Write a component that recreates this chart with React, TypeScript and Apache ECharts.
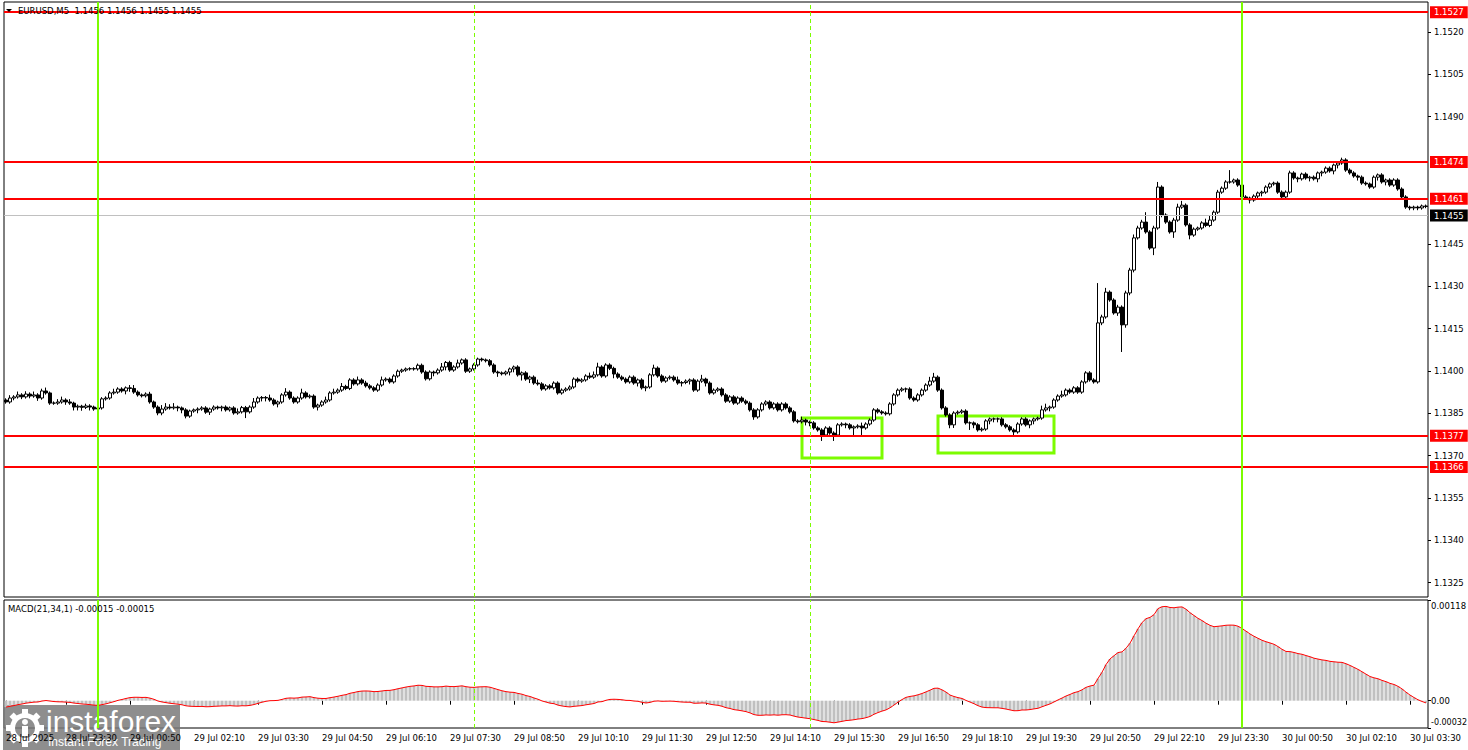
import React, { useEffect, useRef } from 'react';
import * as echarts from 'echarts';

const FONT = 'DejaVu Sans, Verdana, sans-serif';
const FS = 8.5;

// prices are stored as pips above 1.1300
const BASE_PRICE = 1.13;
const FIRST_OPEN_PIPS = 89.7;
// MACD value on the first visible bar
const MACD_START = -0.00008;

// EURUSD M5 closes, one per bar (pips above 1.1300)
const closePips = [
  89.0, 90.4, 90.8, 91.5, 90.8, 91.8, 91.1, 91.5, 90.4, 92.9,
  92.2, 88.6, 88.6, 89.0, 89.7, 89.0, 88.6, 87.2, 87.5, 87.1,
  87.6, 87.2, 86.5, 86.9, 90.1, 90.4, 92.2, 92.5, 93.6, 92.9,
  94.0, 93.8, 92.5, 91.5, 91.2, 91.8, 89.0, 87.2, 85.1, 86.5,
  87.2, 86.9, 87.2, 86.9, 86.2, 84.0, 85.8, 86.2, 86.5, 86.9,
  85.4, 86.5, 87.2, 86.9, 87.2, 86.2, 86.9, 85.1, 85.5, 87.0,
  85.5, 87.2, 89.0, 90.4, 90.6, 90.4, 89.7, 88.3, 89.0, 91.5,
  92.5, 90.4, 89.0, 90.4, 92.2, 90.8, 91.1, 87.2, 87.9, 89.0,
  89.7, 92.2, 92.5, 93.2, 94.5, 93.8, 96.8, 95.4, 96.8, 95.7,
  94.7, 94.0, 93.2, 95.0, 96.8, 97.1, 96.1, 98.2, 99.9, 100.3,
  100.7, 100.8, 100.7, 102.0, 99.6, 97.2, 99.6, 99.3, 100.3, 101.4,
  103.0, 100.3, 101.4, 102.8, 103.9, 99.9, 100.7, 102.1, 104.2, 103.9,
  103.6, 102.1, 99.6, 99.3, 99.0, 99.6, 100.7, 101.4, 98.6, 99.3,
  97.1, 97.8, 95.7, 95.4, 93.6, 94.7, 94.0, 95.7, 92.2, 93.2,
  93.6, 94.3, 97.1, 96.4, 96.8, 98.2, 97.8, 98.6, 101.4, 98.2,
  102.1, 100.9, 98.9, 97.8, 97.1, 96.1, 97.8, 95.7, 96.8, 94.0,
  94.3, 98.6, 101.0, 98.2, 96.4, 97.5, 97.8, 96.8, 95.7, 95.9,
  96.4, 96.8, 93.2, 96.4, 97.1, 95.7, 92.2, 93.2, 93.6, 91.5,
  89.3, 90.8, 88.6, 90.4, 89.3, 88.6, 86.2, 83.7, 86.2, 88.3,
  89.0, 86.9, 88.3, 86.2, 88.3, 86.9, 85.5, 82.3, 82.0, 82.6,
  81.9, 81.6, 79.8, 79.1, 77.3, 79.8, 78.0, 77.3, 80.9, 81.2,
  80.9, 79.8, 80.2, 80.5, 79.8, 81.2, 82.6, 86.2, 85.5, 85.1,
  84.8, 88.3, 91.5, 93.2, 93.6, 93.6, 90.4, 89.7, 91.5, 93.2,
  95.0, 96.4, 97.8, 93.2, 86.9, 84.4, 80.9, 85.1, 85.4, 85.8,
  81.6, 81.6, 80.9, 79.1, 79.4, 82.3, 83.0, 83.0, 83.0, 80.9,
  80.2, 79.1, 78.4, 81.2, 83.0, 80.9, 82.3, 83.0, 83.3, 86.2,
  86.9, 87.2, 89.7, 91.1, 91.5, 93.2, 92.5, 94.0, 92.5, 96.1,
  99.3, 96.8, 96.1, 117.0, 119.1, 127.9, 125.1, 120.5, 122.6, 116.3,
  127.6, 135.7, 147.1, 150.6, 152.7, 149.2, 143.5, 150.6, 165.1, 155.2,
  152.7, 149.2, 153.4, 158.0, 158.7, 151.7, 148.1, 150.2, 150.6, 152.4,
  151.5, 153.4, 156.2, 163.3, 164.7, 166.9, 166.9, 167.6, 165.8, 161.6,
  161.2, 160.5, 161.9, 163.0, 163.3, 165.1, 166.2, 166.5, 163.3, 161.6,
  163.3, 170.1, 168.3, 168.0, 169.7, 168.3, 168.6, 168.0, 170.1, 170.4,
  171.8, 170.8, 172.9, 173.6, 174.7, 171.1, 170.1, 169.0, 168.6, 166.5,
  166.2, 165.1, 168.6, 169.4, 166.9, 167.6, 165.8, 167.6, 164.4, 161.6,
  158.0, 157.7, 158.0, 157.7, 158.4, 158.2,
];

// wick lengths above / below the body, pips
const upperWickPips = [
  0.6, 1.0, 0.6, 1.2, 0.6, 1.0, 0.6, 1.2, 0.6, 0.8,
  1.2, 0.5, 0.6, 1.0, 1.2, 0.6, 1.0, 0.5, 0.6, 0.5,
  0.8, 0.6, 0.5, 0.6, 0.6, 0.6, 0.6, 1.2, 0.6, 0.6,
  0.5, 1.0, 1.2, 0.6, 0.5, 0.6, 0.8, 0.5, 0.6, 1.4,
  1.4, 1.0, 1.4, 0.5, 0.5, 0.6, 0.5, 0.5, 0.6, 0.6,
  0.6, 0.5, 0.6, 0.5, 0.5, 0.6, 0.5, 0.6, 1.2, 0.6,
  0.6, 0.6, 1.4, 0.6, 0.5, 0.5, 1.2, 0.6, 0.5, 0.6,
  1.4, 0.6, 0.6, 0.6, 1.5, 0.6, 0.6, 0.6, 0.5, 0.6,
  1.2, 0.6, 1.2, 0.6, 1.2, 0.6, 0.6, 0.6, 1.2, 0.6,
  0.8, 0.6, 0.6, 0.6, 1.2, 0.6, 0.6, 0.6, 0.6, 0.5,
  0.5, 0.5, 0.5, 0.6, 0.6, 0.6, 0.6, 0.5, 0.6, 1.4,
  0.5, 0.6, 0.6, 1.2, 0.5, 0.6, 0.5, 0.6, 0.5, 0.5,
  0.5, 0.6, 0.6, 0.5, 0.5, 0.5, 0.5, 0.5, 0.6, 0.5,
  0.6, 0.5, 0.6, 1.2, 0.6, 0.6, 0.6, 0.6, 0.6, 0.6,
  0.6, 0.6, 0.6, 0.6, 0.6, 0.6, 1.2, 1.2, 1.5, 0.6,
  0.6, 0.6, 0.6, 0.6, 0.6, 0.6, 0.6, 0.6, 0.5, 0.6,
  0.5, 0.6, 1.2, 0.6, 0.6, 0.6, 0.6, 0.6, 1.2, 0.5,
  0.6, 0.5, 0.6, 0.6, 1.5, 0.5, 0.6, 0.6, 0.6, 0.6,
  0.6, 0.6, 0.6, 0.6, 0.6, 0.6, 0.6, 0.6, 0.6, 0.6,
  0.6, 0.6, 0.6, 0.6, 0.6, 0.6, 0.6, 0.6, 0.6, 1.2,
  0.5, 0.5, 0.6, 0.6, 0.6, 0.6, 0.6, 0.6, 0.6, 0.6,
  0.5, 0.6, 0.5, 0.6, 1.2, 0.6, 0.6, 0.6, 0.6, 0.6,
  0.6, 0.6, 0.6, 0.6, 0.6, 0.5, 0.6, 0.6, 0.6, 0.6,
  0.6, 1.5, 1.5, 0.6, 0.6, 0.6, 0.6, 0.6, 0.6, 0.6,
  0.6, 0.5, 0.5, 0.6, 0.6, 0.6, 0.5, 0.5, 0.5, 0.6,
  0.6, 0.6, 0.6, 0.6, 0.6, 0.6, 0.5, 0.5, 0.5, 1.5,
  1.5, 0.5, 0.6, 0.6, 1.5, 0.6, 0.6, 0.6, 0.6, 0.6,
  0.6, 0.6, 0.6, 14.1, 0.8, 1.5, 0.6, 0.6, 0.8, 0.6,
  0.8, 0.8, 1.2, 0.8, 0.8, 3.5, 0.6, 0.8, 1.8, 0.6,
  0.6, 0.6, 0.8, 1.2, 1.5, 0.6, 0.6, 0.6, 0.5, 0.6,
  1.5, 1.5, 0.6, 0.8, 0.6, 0.6, 4.2, 0.5, 0.6, 0.6,
  0.6, 0.5, 0.6, 0.5, 0.5, 0.6, 0.5, 0.5, 0.6, 0.6,
  0.6, 0.8, 0.6, 0.5, 0.5, 0.6, 0.5, 0.6, 0.5, 0.5,
  0.6, 0.6, 0.5, 0.5, 0.8, 0.6, 0.6, 0.6, 0.5, 0.6,
  0.6, 0.5, 0.6, 0.5, 0.6, 0.5, 0.6, 0.6, 0.6, 0.6,
  0.6, 0.5, 0.5, 0.5, 0.5, 0.5,
];

const lowerWickPips = [
  0.6, 0.6, 0.8, 0.6, 0.8, 0.6, 0.8, 0.6, 1.0, 0.6,
  0.6, 0.6, 0.6, 0.6, 0.6, 1.0, 0.6, 1.2, 1.2, 1.2,
  0.6, 1.2, 0.6, 1.2, 0.6, 0.6, 0.6, 0.6, 0.6, 0.6,
  1.2, 1.2, 0.6, 0.6, 0.6, 0.6, 0.6, 0.6, 0.8, 0.8,
  0.6, 0.6, 0.6, 1.2, 1.2, 0.8, 0.6, 0.6, 1.2, 0.6,
  0.6, 1.0, 0.6, 0.6, 1.2, 0.6, 0.6, 0.6, 0.6, 0.6,
  2.2, 0.6, 0.6, 0.6, 1.2, 1.2, 0.6, 0.6, 1.2, 0.6,
  0.6, 0.6, 0.6, 0.6, 0.6, 0.6, 0.6, 0.6, 1.2, 0.6,
  0.6, 0.6, 0.6, 0.6, 0.6, 0.6, 0.6, 0.6, 0.6, 0.6,
  0.6, 0.6, 0.6, 0.6, 0.6, 0.6, 0.6, 0.6, 0.6, 0.6,
  0.6, 0.6, 0.6, 0.6, 0.6, 0.6, 0.6, 1.2, 0.6, 0.6,
  1.2, 0.6, 0.6, 0.6, 0.6, 0.6, 0.6, 0.6, 0.6, 0.6,
  0.6, 0.6, 0.6, 1.4, 0.6, 0.6, 1.2, 1.2, 0.6, 2.0,
  0.6, 1.4, 0.6, 0.6, 0.6, 0.6, 0.6, 0.6, 0.6, 0.6,
  0.6, 0.6, 0.6, 0.6, 0.6, 0.6, 0.6, 0.6, 0.6, 0.6,
  0.6, 0.6, 1.5, 0.6, 0.6, 0.6, 0.6, 0.6, 1.2, 0.6,
  1.2, 0.6, 0.6, 0.6, 0.6, 0.6, 0.6, 0.6, 0.6, 1.2,
  0.6, 1.2, 0.6, 0.6, 0.6, 1.2, 0.6, 0.6, 0.6, 0.6,
  0.6, 0.6, 0.6, 0.6, 0.6, 0.6, 0.6, 1.0, 0.6, 0.6,
  0.6, 0.6, 0.6, 0.6, 0.6, 0.6, 0.6, 0.6, 0.6, 0.6,
  1.2, 1.2, 0.6, 0.6, 2.1, 0.6, 0.6, 2.1, 0.6, 0.6,
  1.2, 0.6, 2.9, 0.6, 2.5, 0.6, 0.6, 0.6, 0.6, 0.6,
  0.6, 0.6, 0.6, 0.6, 0.6, 1.2, 0.6, 0.6, 0.6, 0.6,
  0.6, 0.6, 0.6, 0.6, 0.6, 0.6, 1.2, 1.1, 0.6, 0.6,
  0.6, 2.5, 1.2, 0.6, 0.6, 0.6, 1.2, 1.2, 1.2, 0.6,
  0.6, 0.6, 1.8, 0.6, 0.6, 0.6, 1.2, 1.2, 0.6, 0.6,
  0.6, 1.2, 0.6, 0.6, 0.6, 0.6, 0.6, 0.6, 0.6, 0.6,
  0.6, 0.6, 0.6, 0.6, 0.8, 0.6, 0.6, 0.6, 1.0, 9.6,
  1.0, 0.8, 0.8, 0.6, 0.6, 0.6, 0.6, 2.5, 0.6, 0.8,
  0.6, 0.6, 2.1, 0.6, 0.6, 0.6, 1.5, 0.6, 0.6, 0.6,
  0.6, 0.6, 0.6, 0.6, 0.6, 0.6, 0.6, 0.6, 0.6, 0.6,
  0.6, 1.2, 0.6, 1.2, 1.2, 0.6, 0.6, 0.6, 0.6, 0.6,
  0.6, 0.6, 0.6, 1.2, 0.6, 0.6, 1.2, 0.6, 1.2, 1.2,
  0.6, 0.6, 1.2, 1.2, 0.6, 0.6, 0.6, 0.6, 1.2, 0.6,
  0.6, 0.6, 0.6, 1.2, 0.6, 1.2, 0.6, 0.6, 0.6, 0.6,
  0.6, 0.8, 0.8, 0.8, 0.6, 0.6,
];

// bottom time scale: [bar index, label]
const timeLabels: [number, string][] = [
  [0, '28 Jul 2025'], [15, '28 Jul 23:30'], [31, '29 Jul 00:50'], [47, '29 Jul 02:10'],
  [63, '29 Jul 03:30'], [79, '29 Jul 04:50'], [95, '29 Jul 06:10'], [111, '29 Jul 07:30'],
  [127, '29 Jul 08:50'], [143, '29 Jul 10:10'], [159, '29 Jul 11:30'], [175, '29 Jul 12:50'],
  [191, '29 Jul 14:10'], [207, '29 Jul 15:30'], [223, '29 Jul 16:50'], [239, '29 Jul 18:10'],
  [255, '29 Jul 19:30'], [271, '29 Jul 20:50'], [287, '29 Jul 22:10'], [303, '29 Jul 23:30'],
  [319, '30 Jul 00:50'], [335, '30 Jul 02:10'], [351, '30 Jul 03:30'],
];

const priceTicks = [
  1.1325, 1.134, 1.1355, 1.137, 1.1385, 1.14, 1.1415, 1.143, 1.1445, 1.149, 1.1505, 1.152,
];
const macdTicks = [0.00118, 0, -0.00032];

const PRICE_MIN = 1.131995;
const PRICE_MAX = 1.153062;
const MACD_MIN = -0.00032;
const MACD_MAX = 0.00118;

const levelPrices = [1.1527, 1.1474, 1.1461, 1.1377, 1.1366];
const bidPrice = 1.1455;
const sessionLines = [23, 309];
const dashedLines = [117, 201];
// [fromBar, toBar, topPrice, bottomPrice]
const boxes: [number, number, number, number][] = [
  [199, 219, 1.13833, 1.13692],
  [233, 262, 1.1384, 1.13709],
];

const GREEN = '#7cfc00';
const SOLID_GREEN = { color: GREEN, width: 2, type: 'solid' };
const DASHED_GREEN = { color: GREEN, width: 1, type: [4, 3] };

const toPrice = (p: number) => +(BASE_PRICE + p / 10000).toFixed(5);

const emaOf = (src: number[], period: number, seed: number) => {
  const k = 2 / (period + 1);
  let e = seed;
  return src.map((v) => (e += k * (v - e)));
};

// vertical segments spanning a pane, built fresh for each series
const verticalSegments = (lo: number, hi: number) => [
  ...sessionLines.map((x) => [
    { coord: [String(x), lo], lineStyle: { ...SOLID_GREEN } },
    { coord: [String(x), hi] },
  ]),
  ...dashedLines.map((x) => [
    { coord: [String(x), lo], lineStyle: { ...DASHED_GREEN } },
    { coord: [String(x), hi] },
  ]),
];

const App: React.FC = () => {
  const chartRef = useRef<HTMLDivElement>(null);

  useEffect(() => {
    document.body.style.margin = '0';
    if (!chartRef.current) return;
    const chart = echarts.init(chartRef.current, null, { renderer: 'svg' });

    const categories = closePips.map((_, i) => String(i));
    const candles = closePips.map((c, i) => {
      const o = i === 0 ? FIRST_OPEN_PIPS : closePips[i - 1];
      const hi = Math.max(o, c) + upperWickPips[i];
      const lo = Math.min(o, c) - lowerWickPips[i];
      return [toPrice(o), toPrice(c), toPrice(lo), toPrice(hi)];
    });

    // MACD(21,34,1): main line and its 1-period signal coincide
    const closes = closePips.map(toPrice);
    const fast = emaOf(closes, 21, closes[0]);
    const slow = emaOf(closes, 34, closes[0] - MACD_START);
    const macd = closes.map((_, i) => +(fast[i] - slow[i]).toFixed(6));

    const labelMap = new Map(timeLabels);
    const showLabel = (i: number) => labelMap.has(i);

    const levelLabel = (bg: string) => ({
      show: true,
      position: 'end',
      distance: 2,
      formatter: (p: any) => Number(p.value).toFixed(4),
      backgroundColor: bg,
      color: '#fff',
      fontSize: FS,
      fontFamily: FONT,
      padding: [2, 4, 1, 4],
    });

    const gearTeeth = [0, 45, 90, 135, 180, 225, 270, 315].map((deg) => ({
      type: 'rect',
      x: 25,
      y: 23,
      rotation: (deg * Math.PI) / 180,
      shape: { x: -3, y: -19, width: 6, height: 6 },
      style: { fill: '#fff' },
    }));

    const pane = { left: 4, width: 1424, show: true, borderColor: '#000', borderWidth: 1, backgroundColor: '#fff', outerBoundsMode: 'none', containLabel: false };

    chart.setOption({
      animation: false,
      backgroundColor: '#fff',
      textStyle: { fontFamily: FONT },
      grid: [
        { ...pane, top: 2, height: 595 },
        { ...pane, top: 600, height: 128 },
      ],
      xAxis: [
        {
          type: 'category',
          gridIndex: 0,
          data: categories,
          axisLine: { show: false },
          axisTick: { show: false },
          axisLabel: { show: false },
          splitLine: { show: false },
        },
        {
          type: 'category',
          gridIndex: 1,
          data: categories,
          axisLine: { show: false },
          axisTick: {
            show: true,
            alignWithLabel: true,
            interval: (i: number) => showLabel(i),
            length: 4,
            lineStyle: { color: '#000' },
          },
          axisLabel: {
            interval: (i: number) => showLabel(i),
            formatter: (_v: string, i: number) => labelMap.get(i) ?? '',
            align: 'left',
            color: '#000',
            fontSize: FS,
            fontFamily: FONT,
            margin: 5,
          },
          splitLine: { show: false },
        },
      ],
      yAxis: [
        {
          type: 'value',
          gridIndex: 0,
          position: 'right',
          min: PRICE_MIN,
          max: PRICE_MAX,
          splitLine: { show: false },
          axisLine: { show: false },
          axisTick: { show: true, customValues: priceTicks, length: 3, lineStyle: { color: '#000' } },
          axisLabel: {
            customValues: priceTicks,
            formatter: (v: number) => v.toFixed(4),
            color: '#000',
            fontSize: FS,
            fontFamily: FONT,
            margin: 6,
          },
        },
        {
          type: 'value',
          gridIndex: 1,
          position: 'right',
          min: MACD_MIN,
          max: MACD_MAX,
          splitLine: { show: false },
          axisLine: { show: false },
          axisTick: { show: true, customValues: macdTicks, length: 3, lineStyle: { color: '#000' } },
          axisLabel: {
            customValues: macdTicks,
            formatter: (v: number) =>
              v === 0 ? '0.00' : v > 0 ? `{hi|${v.toFixed(5)}}` : `{lo|${v.toFixed(5)}}`,
            color: '#000',
            fontSize: FS,
            fontFamily: FONT,
            margin: 3,
            rich: {
              hi: { padding: [11, 0, 0, 0], fontSize: FS, color: '#000', fontFamily: FONT },
              lo: { padding: [0, 0, 11, 0], fontSize: 8, color: '#000', fontFamily: FONT },
            },
          },
        },
      ],
      series: [
        {
          type: 'candlestick',
          xAxisIndex: 0,
          yAxisIndex: 0,
          data: candles,
          barWidth: 3,
          itemStyle: {
            color: '#fff',
            color0: '#000',
            borderColor: '#000',
            borderColor0: '#000',
            borderWidth: 1,
          },
          markLine: {
            silent: true,
            precision: 5,
            symbol: ['none', 'none'],
            label: { show: false },
            data: [
              ...levelPrices.map((p) => ({
                yAxis: p,
                lineStyle: { color: '#ff0000', width: 2, type: 'solid' },
                label: levelLabel('#ff0000'),
              })),
              {
                yAxis: bidPrice,
                lineStyle: { color: '#c0c0c0', width: 1, type: 'solid' },
                label: levelLabel('#000'),
              },
              ...verticalSegments(PRICE_MIN, PRICE_MAX),
            ],
          },
          markArea: {
            silent: true,
            label: { show: false },
            itemStyle: { color: 'rgba(0,0,0,0)', borderColor: GREEN, borderWidth: 3 },
            data: boxes.map(([x0, x1, top, bottom]) => [
              { xAxis: x0, yAxis: top },
              { xAxis: x1, yAxis: bottom },
            ]),
          },
        },
        {
          type: 'bar',
          xAxisIndex: 1,
          yAxisIndex: 1,
          data: macd,
          barWidth: 3,
          itemStyle: { color: '#c0c0c0' },
          markLine: {
            silent: true,
            precision: 6,
            symbol: ['none', 'none'],
            label: { show: false },
            data: verticalSegments(MACD_MIN, MACD_MAX),
          },
        },
        {
          type: 'line',
          xAxisIndex: 1,
          yAxisIndex: 1,
          data: macd,
          showSymbol: false,
          lineStyle: { color: '#ff0000', width: 1 },
          z: 3,
        },
      ],
      graphic: [
        {
          type: 'polygon',
          shape: { points: [[6, 9], [12, 9], [9, 12]] },
          style: { fill: '#000' },
          z: 50,
        },
        {
          type: 'text',
          x: 18,
          y: 6,
          z: 50,
          style: { text: 'EURUSD,M5  1.1456 1.1456 1.1455 1.1455', fill: '#000', fontSize: FS, fontFamily: FONT },
        },
        {
          type: 'text',
          x: 8,
          y: 604,
          z: 50,
          style: { text: 'MACD(21,34,1) -0.00015 -0.00015', fill: '#000', fontSize: FS, fontFamily: FONT },
        },
        {
          type: 'group',
          x: 0,
          y: 705,
          z: 100,
          children: [
            { type: 'rect', shape: { x: 3, y: 0, width: 177, height: 45 }, style: { fill: '#7a7a7a', opacity: 0.85 } },
            { type: 'ring', shape: { cx: 25, cy: 23, r: 15, r0: 10 }, style: { fill: '#fff' } },
            ...gearTeeth,
            { type: 'circle', shape: { cx: 25, cy: 17, r: 3 }, style: { fill: '#fff' } },
            { type: 'rect', shape: { x: 22, y: 21, width: 6, height: 10 }, style: { fill: '#fff' } },
            {
              type: 'text',
              x: 46,
              y: 1,
              style: { text: 'instaforex', fill: '#fff', fontSize: 30, fontFamily: 'Liberation Sans, Arial, sans-serif' },
            },
            {
              type: 'text',
              x: 48,
              y: 31,
              style: { text: 'Instant Forex Trading', fill: '#fff', fontSize: 12, fontFamily: 'Liberation Sans, Arial, sans-serif' },
            },
          ],
        },
      ],
    });

    return () => {
      chart.dispose();
    };
  }, []);

  return <div ref={chartRef} style={{ width: '1468px', height: '750px' }} />;
};

export default App;
